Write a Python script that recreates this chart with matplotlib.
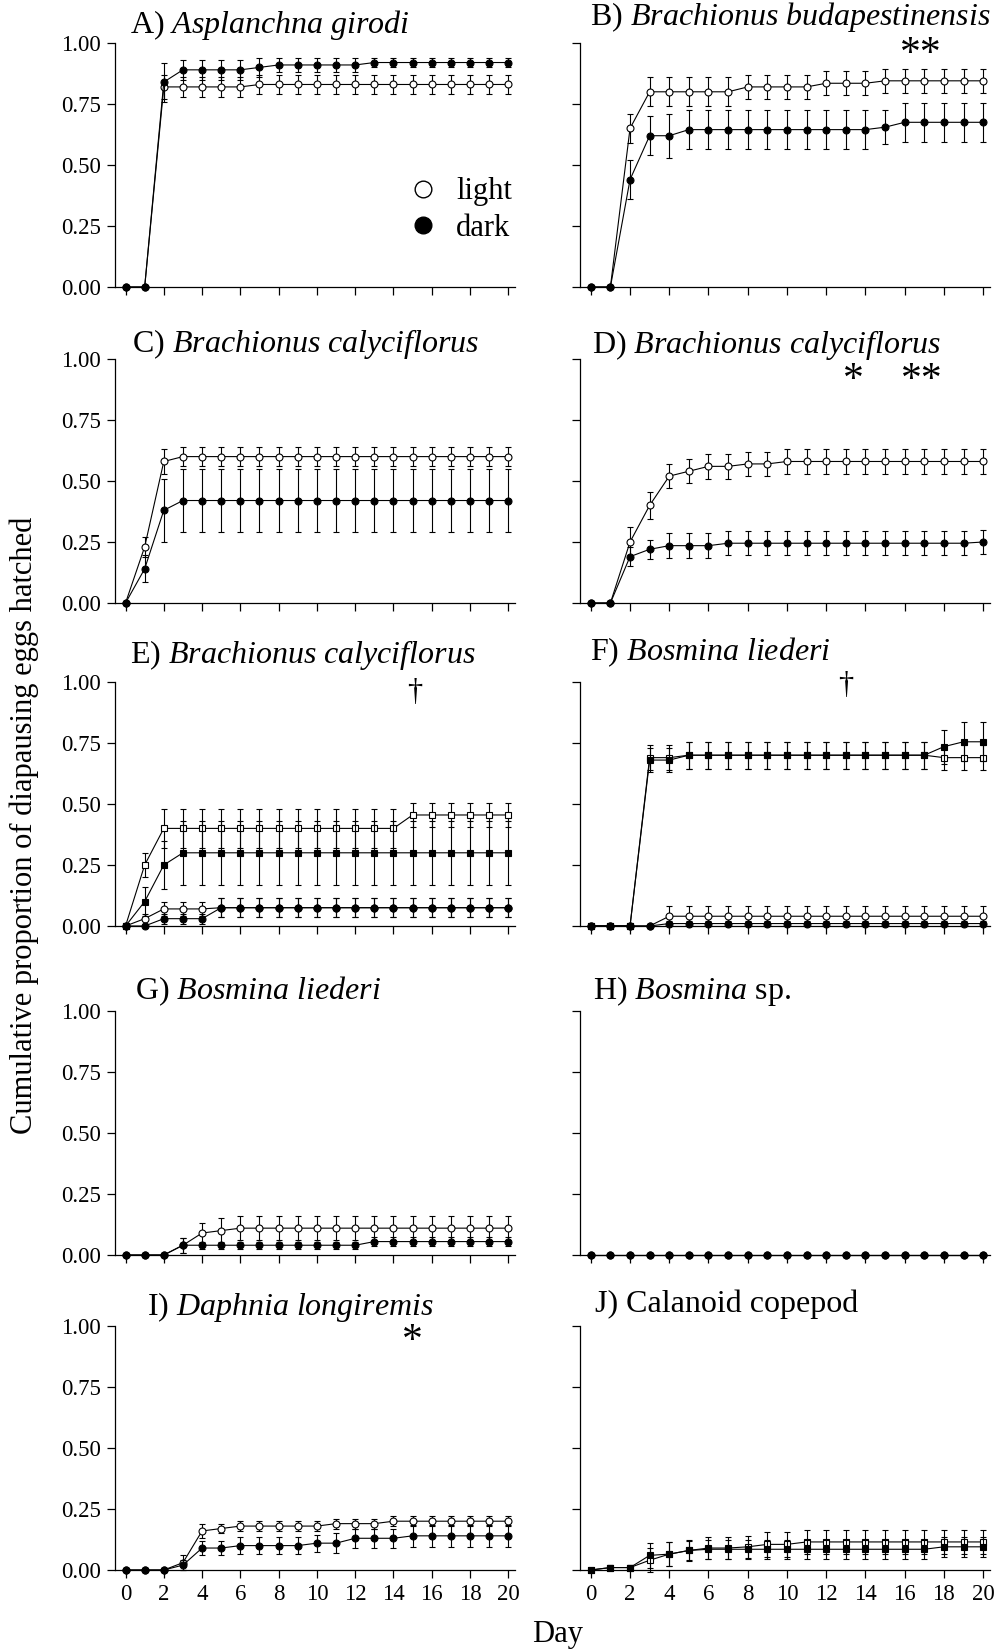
import matplotlib
matplotlib.use('Agg')
import matplotlib.pyplot as plt
from matplotlib.lines import Line2D

plt.rcParams['font.family'] = ['Liberation Serif', 'DejaVu Serif']
plt.rcParams['mathtext.fontset'] = 'custom'
plt.rcParams['mathtext.rm'] = 'Liberation Serif'
plt.rcParams['mathtext.it'] = 'Liberation Serif:italic'

days = [0, 1, 2, 3, 4, 5, 6, 7, 8, 9, 10, 11, 12, 13, 14, 15, 16, 17, 18, 19, 20]
day_ticks = [0, 2, 4, 6, 8, 10, 12, 14, 16, 18, 20]
y_ticks = [0.0, 0.25, 0.5, 0.75, 1.0]

titles = [r'A) $\mathit{Asplanchna\ girodi}$',
          r'B) $\mathit{Brachionus\ budapestinensis}$',
          r'C) $\mathit{Brachionus\ calyciflorus}$',
          r'D) $\mathit{Brachionus\ calyciflorus}$',
          r'E) $\mathit{Brachionus\ calyciflorus}$',
          r'F) $\mathit{Bosmina\ liederi}$',
          r'G) $\mathit{Bosmina\ liederi}$',
          r'H) $\mathit{Bosmina}$ sp.',
          r'I) $\mathit{Daphnia\ longiremis}$',
          'J) Calanoid copepod']
# where each title starts and where its baseline sits, in axes fraction
title_x = [0.0375, 0.024, 0.0425, 0.029, 0.0375, 0.024, 0.05, 0.032, 0.08, 0.037]
title_y = [1.041, 1.074, 1.03, 1.025, 1.078, 1.09, 1.05, 1.05, 1.045, 1.057]

# A) Asplanchna girodi
a_light = [0, 0, 0.82, 0.82, 0.82, 0.82, 0.82, 0.83, 0.83, 0.83, 0.83, 0.83, 0.83, 0.83, 0.83, 0.83, 0.83, 0.83, 0.83, 0.83, 0.83]
a_light_err = [0, 0, 0.05, 0.04, 0.04, 0.04, 0.04, 0.04, 0.04, 0.04, 0.04, 0.04, 0.04, 0.04, 0.04, 0.04, 0.04, 0.04, 0.04, 0.04, 0.04]
a_dark = [0, 0, 0.84, 0.89, 0.89, 0.89, 0.89, 0.90, 0.91, 0.91, 0.91, 0.91, 0.91, 0.92, 0.92, 0.92, 0.92, 0.92, 0.92, 0.92, 0.92]
a_dark_err = [0, 0, 0.08, 0.04, 0.04, 0.04, 0.04, 0.04, 0.03, 0.03, 0.03, 0.03, 0.03, 0.02, 0.02, 0.02, 0.02, 0.02, 0.02, 0.02, 0.02]

# B) Brachionus budapestinensis
b_light = [0, 0, 0.65, 0.80, 0.80, 0.80, 0.80, 0.80, 0.82, 0.82, 0.82, 0.82, 0.835, 0.835, 0.835, 0.845, 0.845, 0.845, 0.845, 0.845, 0.845]
b_light_err = [0, 0, 0.06, 0.06, 0.06, 0.06, 0.06, 0.06, 0.05, 0.05, 0.05, 0.05, 0.05, 0.05, 0.05, 0.05, 0.05, 0.05, 0.05, 0.05, 0.05]
b_dark = [0, 0, 0.44, 0.62, 0.62, 0.645, 0.645, 0.645, 0.645, 0.645, 0.645, 0.645, 0.645, 0.645, 0.645, 0.655, 0.675, 0.675, 0.675, 0.675, 0.675]
b_dark_err = [0, 0, 0.08, 0.08, 0.09, 0.08, 0.08, 0.08, 0.08, 0.08, 0.08, 0.08, 0.08, 0.08, 0.08, 0.07, 0.08, 0.08, 0.08, 0.08, 0.08]

# C) Brachionus calyciflorus
c_light = [0, 0.23, 0.58, 0.60, 0.60, 0.60, 0.60, 0.60, 0.60, 0.60, 0.60, 0.60, 0.60, 0.60, 0.60, 0.60, 0.60, 0.60, 0.60, 0.60, 0.60]
c_light_err = [0, 0.04, 0.05, 0.04, 0.04, 0.04, 0.04, 0.04, 0.04, 0.04, 0.04, 0.04, 0.04, 0.04, 0.04, 0.04, 0.04, 0.04, 0.04, 0.04, 0.04]
c_dark = [0, 0.14, 0.38, 0.42, 0.42, 0.42, 0.42, 0.42, 0.42, 0.42, 0.42, 0.42, 0.42, 0.42, 0.42, 0.42, 0.42, 0.42, 0.42, 0.42, 0.42]
c_dark_err = [0, 0.055, 0.13, 0.13, 0.13, 0.13, 0.13, 0.13, 0.13, 0.13, 0.13, 0.13, 0.13, 0.13, 0.13, 0.13, 0.13, 0.13, 0.13, 0.13, 0.13]

# D) Brachionus calyciflorus
d_light = [0, 0, 0.25, 0.40, 0.52, 0.54, 0.56, 0.56, 0.57, 0.57, 0.58, 0.58, 0.58, 0.58, 0.58, 0.58, 0.58, 0.58, 0.58, 0.58, 0.58]
d_light_err = [0, 0, 0.06, 0.055, 0.05, 0.05, 0.05, 0.05, 0.05, 0.05, 0.05, 0.05, 0.05, 0.05, 0.05, 0.05, 0.05, 0.05, 0.05, 0.05, 0.05]
d_dark = [0, 0, 0.19, 0.22, 0.235, 0.235, 0.235, 0.245, 0.245, 0.245, 0.245, 0.245, 0.245, 0.245, 0.245, 0.245, 0.245, 0.245, 0.245, 0.245, 0.25]
d_dark_err = [0, 0, 0.04, 0.04, 0.05, 0.05, 0.05, 0.05, 0.05, 0.05, 0.05, 0.05, 0.05, 0.05, 0.05, 0.05, 0.05, 0.05, 0.05, 0.05, 0.05]

# E) Brachionus calyciflorus, two groups (squares, circles)
e_sq_light = [0, 0.25, 0.40, 0.40, 0.40, 0.40, 0.40, 0.40, 0.40, 0.40, 0.40, 0.40, 0.40, 0.40, 0.40, 0.455, 0.455, 0.455, 0.455, 0.455, 0.455]
e_sq_light_err = [0, 0.05, 0.08, 0.08, 0.08, 0.08, 0.08, 0.08, 0.08, 0.08, 0.08, 0.08, 0.08, 0.08, 0.08, 0.05, 0.05, 0.05, 0.05, 0.05, 0.05]
e_sq_dark = [0, 0.10, 0.25, 0.30, 0.30, 0.30, 0.30, 0.30, 0.30, 0.30, 0.30, 0.30, 0.30, 0.30, 0.30, 0.30, 0.30, 0.30, 0.30, 0.30, 0.30]
e_sq_dark_err = [0, 0.06, 0.10, 0.13, 0.13, 0.13, 0.13, 0.13, 0.13, 0.13, 0.13, 0.13, 0.13, 0.13, 0.13, 0.13, 0.13, 0.13, 0.13, 0.13, 0.13]
e_ci_light = [0, 0.03, 0.07, 0.07, 0.07, 0.075, 0.075, 0.075, 0.075, 0.075, 0.075, 0.075, 0.075, 0.075, 0.075, 0.075, 0.075, 0.075, 0.075, 0.075, 0.075]
e_ci_light_err = [0, 0.02, 0.03, 0.03, 0.03, 0.04, 0.04, 0.04, 0.04, 0.04, 0.04, 0.04, 0.04, 0.04, 0.04, 0.04, 0.04, 0.04, 0.04, 0.04, 0.04]
e_ci_dark = [0, 0, 0.03, 0.03, 0.03, 0.075, 0.075, 0.075, 0.075, 0.075, 0.075, 0.075, 0.075, 0.075, 0.075, 0.075, 0.075, 0.075, 0.075, 0.075, 0.075]
e_ci_dark_err = [0, 0, 0.02, 0.02, 0.02, 0.04, 0.04, 0.04, 0.04, 0.04, 0.04, 0.04, 0.04, 0.04, 0.04, 0.04, 0.04, 0.04, 0.04, 0.04, 0.04]

# F) Bosmina liederi, two groups (squares, circles)
f_sq_light = [0, 0, 0, 0.69, 0.69, 0.70, 0.70, 0.70, 0.70, 0.70, 0.70, 0.70, 0.70, 0.70, 0.70, 0.70, 0.70, 0.70, 0.69, 0.69, 0.69]
f_sq_light_err = [0, 0, 0, 0.05, 0.05, 0.055, 0.055, 0.055, 0.055, 0.055, 0.055, 0.055, 0.055, 0.055, 0.055, 0.055, 0.055, 0.055, 0.05, 0.05, 0.05]
f_sq_dark = [0, 0, 0, 0.68, 0.68, 0.70, 0.70, 0.70, 0.70, 0.70, 0.70, 0.70, 0.70, 0.70, 0.70, 0.70, 0.70, 0.70, 0.735, 0.755, 0.755]
f_sq_dark_err = [0, 0, 0, 0.05, 0.05, 0.055, 0.055, 0.055, 0.055, 0.055, 0.055, 0.055, 0.055, 0.055, 0.055, 0.055, 0.055, 0.055, 0.07, 0.08, 0.08]
f_ci_light = [0, 0, 0, 0, 0.04, 0.04, 0.04, 0.04, 0.04, 0.04, 0.04, 0.04, 0.04, 0.04, 0.04, 0.04, 0.04, 0.04, 0.04, 0.04, 0.04]
f_ci_light_err = [0, 0, 0, 0, 0.04, 0.04, 0.04, 0.04, 0.04, 0.04, 0.04, 0.04, 0.04, 0.04, 0.04, 0.04, 0.04, 0.04, 0.04, 0.04, 0.04]
f_ci_dark = [0, 0, 0, 0, 0.01, 0.01, 0.01, 0.01, 0.01, 0.01, 0.01, 0.01, 0.01, 0.01, 0.01, 0.01, 0.01, 0.01, 0.01, 0.01, 0.01]
f_ci_dark_err = [0, 0, 0, 0, 0.01, 0.01, 0.01, 0.01, 0.01, 0.01, 0.01, 0.01, 0.01, 0.01, 0.01, 0.01, 0.01, 0.01, 0.01, 0.01, 0.01]

# G) Bosmina liederi
g_light = [0, 0, 0, 0.04, 0.09, 0.10, 0.11, 0.11, 0.11, 0.11, 0.11, 0.11, 0.11, 0.11, 0.11, 0.11, 0.11, 0.11, 0.11, 0.11, 0.11]
g_light_err = [0, 0, 0, 0.03, 0.04, 0.05, 0.05, 0.05, 0.05, 0.05, 0.05, 0.05, 0.05, 0.05, 0.05, 0.05, 0.05, 0.05, 0.05, 0.05, 0.05]
g_dark = [0, 0, 0, 0.04, 0.04, 0.04, 0.04, 0.04, 0.04, 0.04, 0.04, 0.04, 0.04, 0.055, 0.055, 0.055, 0.055, 0.055, 0.055, 0.055, 0.055]
g_dark_err = [0, 0, 0, 0.03, 0.015, 0.015, 0.015, 0.015, 0.015, 0.015, 0.015, 0.015, 0.015, 0.02, 0.02, 0.02, 0.02, 0.02, 0.02, 0.02, 0.02]

# H) Bosmina sp. (nothing hatched)
h_light = [0, 0, 0, 0, 0, 0, 0, 0, 0, 0, 0, 0, 0, 0, 0, 0, 0, 0, 0, 0, 0]
h_dark = [0, 0, 0, 0, 0, 0, 0, 0, 0, 0, 0, 0, 0, 0, 0, 0, 0, 0, 0, 0, 0]

# I) Daphnia longiremis
i_light = [0, 0, 0, 0.03, 0.16, 0.17, 0.18, 0.18, 0.18, 0.18, 0.18, 0.19, 0.19, 0.19, 0.20, 0.20, 0.20, 0.20, 0.20, 0.20, 0.20]
i_light_err = [0, 0, 0, 0.03, 0.03, 0.02, 0.02, 0.02, 0.02, 0.02, 0.02, 0.02, 0.02, 0.02, 0.02, 0.02, 0.02, 0.02, 0.02, 0.02, 0.02]
i_dark = [0, 0, 0, 0.02, 0.09, 0.09, 0.10, 0.10, 0.10, 0.10, 0.11, 0.11, 0.13, 0.13, 0.13, 0.14, 0.14, 0.14, 0.14, 0.14, 0.14]
i_dark_err = [0, 0, 0, 0.02, 0.03, 0.03, 0.035, 0.035, 0.035, 0.035, 0.035, 0.04, 0.04, 0.04, 0.04, 0.045, 0.045, 0.045, 0.045, 0.045, 0.045]

# J) Calanoid copepod
j_light = [0, 0.01, 0.01, 0.04, 0.065, 0.08, 0.09, 0.09, 0.095, 0.105, 0.105, 0.115, 0.115, 0.115, 0.115, 0.115, 0.115, 0.115, 0.115, 0.115, 0.115]
j_light_err = [0, 0.01, 0.01, 0.05, 0.05, 0.045, 0.045, 0.045, 0.045, 0.05, 0.05, 0.05, 0.05, 0.05, 0.05, 0.05, 0.05, 0.05, 0.05, 0.05, 0.05]
j_dark = [0, 0.01, 0.01, 0.06, 0.065, 0.08, 0.085, 0.085, 0.085, 0.085, 0.085, 0.085, 0.085, 0.085, 0.085, 0.085, 0.085, 0.085, 0.095, 0.095, 0.095]
j_dark_err = [0, 0.01, 0.01, 0.05, 0.05, 0.04, 0.04, 0.04, 0.04, 0.04, 0.04, 0.04, 0.04, 0.04, 0.04, 0.04, 0.04, 0.04, 0.04, 0.04, 0.04]

# significance marks: (panel, day, y of glyph centre, text)
marks = [(1, 16.85, 0.99, '**'),
         (3, 13.4, 0.95, '*'),
         (3, 16.9, 0.95, '**'),
         (8, 15.0, 0.975, '*')]
daggers = [(4, 15.1, 0.955), (5, 13.0, 0.985)]

fig = plt.figure(figsize=(10.03, 16.5), dpi=100)
W, H = 1003.0, 1650.0

col_x = [(115, 400), (580, 410)]
row_top = [43, 359, 682, 1011, 1326]
row_h = 244

axes = []
for r in range(5):
    for c in range(2):
        x0, w = col_x[c]
        ax = fig.add_axes([x0 / W, 1 - (row_top[r] + row_h) / H, w / W, row_h / H])
        axes.append(ax)


def series(ax, y, err, marker, filled):
    fc = 'black' if filled else 'white'
    eb = ax.errorbar(days, y, yerr=err, fmt='-', marker=marker, ms=5,
                     mfc=fc, mec='black', mew=0.8, color='black', lw=0.8,
                     elinewidth=0.8, capsize=2.5, capthick=0.8,
                     zorder=4 if filled else 3)
    for art in eb.lines[0:1] + tuple(eb.lines[1]) + tuple(eb.lines[2]):
        art.set_clip_on(False)


panel_data = [
    [(a_light, a_light_err, 'o', False), (a_dark, a_dark_err, 'o', True)],
    [(b_light, b_light_err, 'o', False), (b_dark, b_dark_err, 'o', True)],
    [(c_light, c_light_err, 'o', False), (c_dark, c_dark_err, 'o', True)],
    [(d_light, d_light_err, 'o', False), (d_dark, d_dark_err, 'o', True)],
    [(e_sq_light, e_sq_light_err, 's', False), (e_ci_light, e_ci_light_err, 'o', False),
     (e_sq_dark, e_sq_dark_err, 's', True), (e_ci_dark, e_ci_dark_err, 'o', True)],
    [(f_sq_light, f_sq_light_err, 's', False), (f_ci_light, f_ci_light_err, 'o', False),
     (f_sq_dark, f_sq_dark_err, 's', True), (f_ci_dark, f_ci_dark_err, 'o', True)],
    [(g_light, g_light_err, 'o', False), (g_dark, g_dark_err, 'o', True)],
    [(h_light, None, 'o', False), (h_dark, None, 'o', True)],
    [(i_light, i_light_err, 'o', False), (i_dark, i_dark_err, 'o', True)],
    [(j_light, j_light_err, 's', False), (j_dark, j_dark_err, 's', True)],
]

for k, ax in enumerate(axes):
    for y, err, m, filled in panel_data[k]:
        series(ax, y, err, m, filled)
    ax.set_xlim(-0.55, 20.35)
    ax.set_ylim(0, 1)
    ax.spines['top'].set_visible(False)
    ax.spines['right'].set_visible(False)
    for s in ('left', 'bottom'):
        ax.spines[s].set_linewidth(0.9)
    ax.set_xticks(day_ticks)
    ax.set_yticks(y_ticks)
    ax.tick_params(direction='out', length=6, width=0.9, labelsize=16.5, pad=4)
    if k % 2 == 0:
        ax.set_yticklabels(['%.2f' % v for v in y_ticks])
    else:
        ax.set_yticklabels([])
    if k < 8:
        ax.set_xticklabels([])
    ax.text(title_x[k], title_y[k], titles[k], transform=ax.transAxes, fontsize=23,
            ha='left', va='baseline')

# asterisks: baseline shifted down so the glyph centre sits on the target
for k, d, yv, s in marks:
    axes[k].annotate(s, (d, yv), xytext=(0, -14), textcoords='offset points',
                     fontsize=30, ha='center', va='baseline')
for k, d, yv in daggers:
    axes[k].text(d, yv, '\u2020', fontsize=22, ha='center', va='center')

legend_handles = [
    Line2D([], [], ls='none', marker='o', ms=12, mfc='white', mec='black', mew=1.0),
    Line2D([], [], ls='none', marker='o', ms=12, mfc='black', mec='black', mew=1.0),
]
axes[0].legend(legend_handles, ['light', 'dark'], loc='center left',
               bbox_to_anchor=(0.70, 0.315), frameon=False, fontsize=22,
               handlelength=1.0, handletextpad=0.6, labelspacing=0.25,
               borderaxespad=0)

fig.text(24 / W, 1 - 825 / H, 'Cumulative proportion of diapausing eggs hatched',
         rotation=90, ha='center', va='center', fontsize=22)
fig.text(558 / W, 1 - 1642 / H, 'Day', ha='center', va='baseline', fontsize=22)

fig.savefig('out.png', dpi=100)
